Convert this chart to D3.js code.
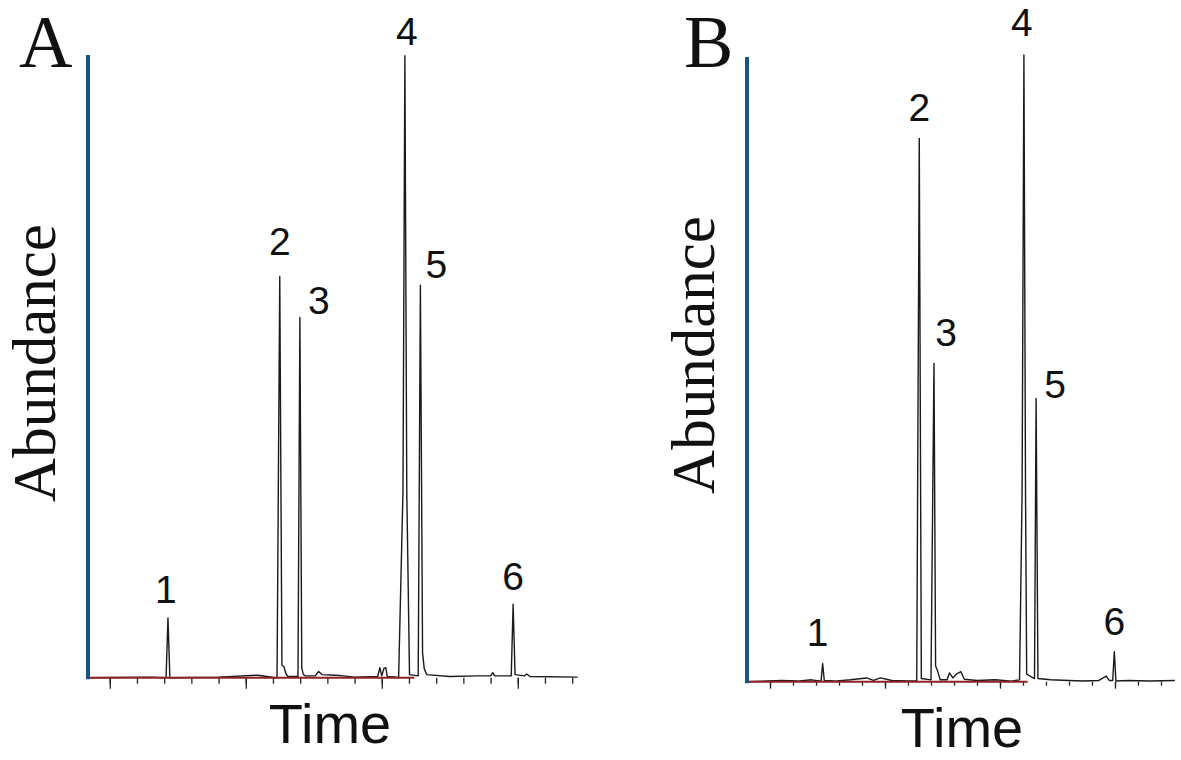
<!DOCTYPE html>
<html>
<head>
<meta charset="utf-8">
<script src="https://cdn.jsdelivr.net/npm/d3@7"></script>
<style>
  body { margin: 0; background: #fff; }
  svg { display: block; }
</style>
</head>
<body>
<svg id="chart" width="1181" height="760"></svg>
<script>
// peak numbers shared by both chromatograms
const peakLabels = ["1", "2", "3", "4", "5", "6"];

// panel A : retention time (min) and abundance (% of peak 4)
const peakTimesA = [7.14, 11.25, 11.99, 15.85, 16.42, 19.83];
const peakHeightsA = [9.6, 64.5, 57.9, 100, 63.1, 11.8];
// baseline / shoulder points of the trace, apexes are added from the peak arrays
const baseTraceA = [
  [4.2, 0], [6.5, 0.1], [7.07, 0], [7.21, 0], [9.0, 0.1], [10.44, 0.4], [11.1, 0],
  [11.15, 0], [11.33, 2], [11.4, 1.8], [11.48, 0.6], [11.55, 0.2],
  [11.92, 0.2], [12.06, 1.5], [12.12, 0.5], [12.2, 0.3],
  [12.55, 0.3], [12.68, 1.0], [12.8, 0.5], [13.3, 0.4], [13.6, 0.3], [14.0, 0.1],
  [14.85, 0.2], [14.93, 1.6], [15.0, 0.3], [15.08, 1.5], [15.15, 1.6], [15.2, 0.2],
  [15.55, 0.1], [15.62, 0], [15.78, 30], [15.92, 30], [16.02, 0.5],
  [16.34, 0.3], [16.5, 4], [16.56, 1.5], [16.65, 0.5],
  [17.5, 0.2], [18.5, 0.3], [19.0, 0.3], [19.08, 0.8], [19.15, 0.3],
  [19.76, 0.3], [19.9, 0.5], [20.25, 0.3], [20.33, 0.6], [20.45, 0.2], [22.2, 0.1]
];

// panel B
const peakTimesB = [7.29, 11.49, 12.13, 16.04, 16.57, 19.97];
const peakHeightsB = [2.9, 86.7, 50.8, 100, 45.2, 4.8];
const baseTraceB = [
  [4.0, 0], [5.5, 0.2], [6.2, 0.1], [6.8, 0.3], [7.22, 0.1], [7.36, 0.2], [7.8, 0.1],
  [8.5, 0.3], [9.2, 0.6], [9.5, 0.2], [9.8, 0.6], [10.3, 0.2], [11.0, 0.1],
  [11.38, 0.1], [11.58, 0.5], [12.0, 0.3], [12.2, 2.5], [12.28, 1.8], [12.4, 0.3],
  [12.7, 0.3], [12.8, 1.4], [12.95, 0.6], [13.1, 1.2], [13.3, 1.6], [13.45, 0.4],
  [14.0, 0.2], [14.8, 0.3], [15.5, 0.1], [15.85, 0.3], [15.96, 30], [16.11, 30],
  [16.16, 1.2], [16.25, 1.0], [16.5, 0.5], [16.65, 0.5], [17.2, 0.3], [18.0, 0.2],
  [18.6, 0.1], [19.3, 0.2], [19.62, 0.9], [19.75, 0.2], [19.9, 0.2], [20.04, 0.1],
  [20.6, 0.2], [21.5, 0.1], [22.6, 0.2]
];

// time axis ticks
const minorTicks = [5, 6, 7, 8, 9, 10, 11, 12, 13, 14, 15, 16, 17, 18, 19, 20, 21, 22];
const majorTicks = [5, 10, 15, 20];
const redBaselineEnd = 16.2;

const svg = d3.select("#chart");

const drawPanel = (p) => {
  const x = d3.scaleLinear().domain(p.xDomain).range([p.left, p.right]);
  const y = d3.scaleLinear().domain([0, 100]).range([p.bottom, p.top]);
  const g = svg.append("g");

  // tick marks under the trace
  g.append("g")
    .attr("transform", `translate(0,${p.bottom})`)
    .call(d3.axisBottom(x).tickValues(minorTicks).tickSize(p.minorLen).tickFormat(""))
    .call(a => a.select(".domain").remove())
    .call(a => a.selectAll("line").attr("stroke", "#222").attr("stroke-width", 1.3));
  g.append("g")
    .attr("transform", `translate(0,${p.bottom})`)
    .call(d3.axisBottom(x).tickValues(majorTicks).tickSize(p.majorLen).tickFormat(""))
    .call(a => a.select(".domain").remove())
    .call(a => a.selectAll("line").attr("stroke", "#222").attr("stroke-width", 1.3));

  // merge apexes into the trace and sort by time
  const points = p.trace.concat(p.times.map((t, i) => [t, p.heights[i]]))
    .sort((a, b) => a[0] - b[0]);

  const line = d3.line().x(d => x(d[0])).y(d => y(d[1]));
  g.append("path")
    .datum(points)
    .attr("d", line)
    .attr("fill", "none")
    .attr("stroke", "#1a1a1a")
    .attr("stroke-width", 1.4)
    .attr("stroke-linejoin", "round");

  // red baseline at the start of the run
  g.append("line")
    .attr("x1", x(p.xDomain[0])).attr("x2", x(redBaselineEnd))
    .attr("y1", y(0)).attr("y2", y(0))
    .attr("stroke", "#8e2323").attr("stroke-width", 2);

  // blue abundance axis
  g.append("line")
    .attr("x1", p.left).attr("x2", p.left)
    .attr("y1", p.axisTop).attr("y2", p.bottom + 1.5)
    .attr("stroke", "#1b5480").attr("stroke-width", 4);

  // peak numbers
  g.selectAll(".peak-label")
    .data(peakLabels)
    .enter()
    .append("text")
    .attr("class", "peak-label")
    .attr("x", (d, i) => x(p.times[i]) + p.labelDx[i])
    .attr("y", (d, i) => y(p.heights[i]) - p.labelDy[i])
    .attr("text-anchor", "middle")
    .attr("font-family", "Liberation Sans, Arial, sans-serif")
    .attr("font-size", 39)
    .attr("fill", "#111")
    .text(d => d);

  // panel letter
  g.append("text")
    .attr("x", p.letterX).attr("y", 67)
    .attr("font-family", "Liberation Serif, Times New Roman, serif")
    .attr("font-size", 74)
    .attr("fill", "#111")
    .text(p.letter);

  // axis titles
  g.append("text")
    .attr("transform", `translate(${p.yTitleX},${p.yTitleY}) rotate(-90)`)
    .attr("text-anchor", "middle")
    .attr("font-family", "Liberation Serif, Times New Roman, serif")
    .attr("font-size", 61)
    .attr("fill", "#111")
    .text("Abundance");

  g.append("text")
    .attr("x", p.xTitleX).attr("y", p.xTitleY)
    .attr("text-anchor", "middle")
    .attr("font-family", "Liberation Sans, Arial, sans-serif")
    .attr("font-size", 56)
    .attr("fill", "#111")
    .text("Time");
};

drawPanel({
  letter: "A", letterX: 19,
  xDomain: [4.2, 22.2], left: 88, right: 577.6,
  top: 55.7, bottom: 677.7, axisTop: 55,
  minorLen: 6, majorLen: 11,
  times: peakTimesA, heights: peakHeightsA, trace: baseTraceA,
  labelDx: [-2, 0, 19, 2, 16, 0],
  labelDy: [15, 22, 4, 11, 7, 14],
  yTitleX: 55, yTitleY: 363,
  xTitleX: 330, xTitleY: 743
});

drawPanel({
  letter: "B", letterX: 684,
  xDomain: [4.0, 22.6], left: 747, right: 1174.8,
  top: 55, bottom: 681.7, axisTop: 57,
  minorLen: 4, majorLen: 7,
  times: peakTimesB, heights: peakHeightsB, trace: baseTraceB,
  labelDx: [-5, 0, 12, -2, 19, 0],
  labelDy: [18, 17, 17, 19, 0, 17],
  yTitleX: 714, yTitleY: 355,
  xTitleX: 962, xTitleY: 747
});
</script>
</body>
</html>
